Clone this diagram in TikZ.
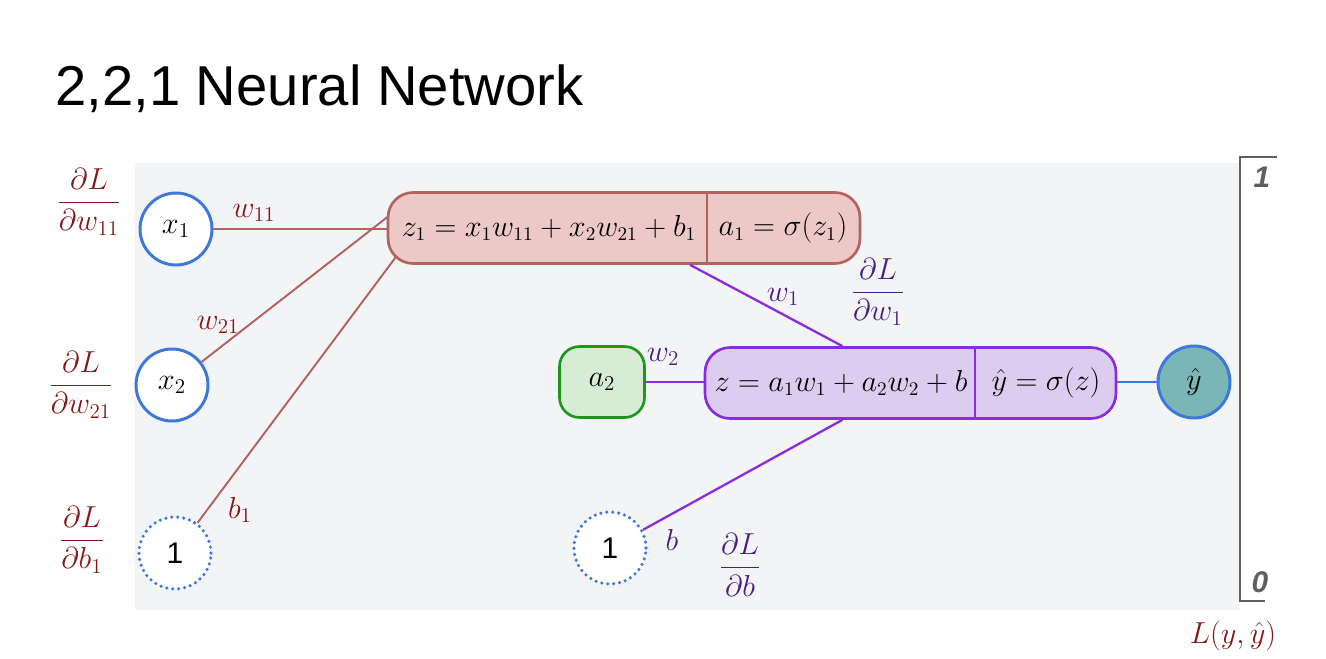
\documentclass[tikz,border=0pt]{standalone}
\usepackage{amsmath}
\usepackage{fontspec}
\setmainfont{Liberation Sans}
\usetikzlibrary{calc}
\definecolor{panelcolor}{RGB}{243,244,246}
\definecolor{bluecolor}{RGB}{62,120,222}
\definecolor{redline}{RGB}{178,98,96}
\definecolor{redfill}{RGB}{236,200,199}
\definecolor{redlabel}{RGB}{132,24,24}
\definecolor{purpleline}{RGB}{138,43,226}
\definecolor{purplefill}{RGB}{220,204,240}
\definecolor{purplelabel}{RGB}{72,30,128}
\definecolor{greenline}{RGB}{30,150,30}
\definecolor{greenfill}{RGB}{214,236,212}
\definecolor{tealfill}{RGB}{122,182,182}
\definecolor{graycolor}{RGB}{95,95,95}

\begin{document}
\begin{tikzpicture}[x=0.02cm, y=-0.02cm,
    mathfont/.style={font=\fontsize{17}{20}\selectfont},
    boxfont/.style={font=\fontsize{16}{19}\selectfont, inner sep=1pt},
    unit/.style={circle, draw=bluecolor, line width=1.7pt, fill=white,
        minimum size=1.44cm, inner sep=0pt, mathfont},
    biasunit/.style={unit, line width=2pt, dash pattern=on 0pt off 3.4pt, line cap=round},
    calcbox/.style={rounded corners=0.5cm, line width=1.5pt, minimum height=1.42cm, inner sep=0pt},
    redlink/.style={draw=redline, line width=1.1pt},
    purplelink/.style={draw=purpleline, line width=1.3pt},
    redtag/.style={text=redlabel, mathfont},
    purpletag/.style={text=purplelabel, mathfont}]
    \useasboundingbox (0,0) rectangle (1326,659);

    % Title
    \node[anchor=base west, inner sep=0pt, font=\fontsize{32}{38}\selectfont] (title) at (55,105) {2,2,1 Neural Network};

    % Grey panel
    \fill[panelcolor] (135,163) rectangle (1240,610);

    % Inputs and bias of the hidden layer
    \node[unit] (x1) at (176,229) {$x_1$};
    \node[unit] (x2) at (172,385) {$x_2$};
    \node[biasunit] (b1) at (175,553) {1};

    % Hidden neuron 1
    \node[calcbox, draw=redline, fill=redfill, minimum width=9.44cm] (z1box) at (624,228) {};
    \draw[draw=redline, line width=1.5pt] (z1box.north -| 707,0) -- (z1box.south -| 707,0);
    \node[boxfont] (z1txt) at (549,228) {$z_1 = x_1w_{11} + x_2w_{21} + b_1$};
    \node[boxfont] (a1txt) at (783,228) {$a_1 = \sigma(z_1)$};

    % Hidden neuron 2 and output bias
    \node[calcbox, draw=greenline, fill=greenfill, minimum width=1.7cm, rounded corners=0.4cm, mathfont] (a2) at (602,382) {$a_2$};
    \node[biasunit] (b2) at (610,548) {1};

    % Output neuron
    \node[calcbox, draw=purpleline, fill=purplefill, minimum width=8.22cm] (zbox) at (910.5,383) {};
    \draw[draw=purpleline, line width=1.5pt] (zbox.north -| 975,0) -- (zbox.south -| 975,0);
    \node[boxfont] (ztxt) at (841,383) {$z = a_1w_1 + a_2w_2 + b$};
    \node[boxfont] (yhattxt) at (1046,383) {$\hat{y} = \sigma(z)$};
    \node[unit, fill=tealfill] (yhat) at (1194,382) {$\hat{y}$};

    % Connections into the hidden neuron
    \draw[redlink] (x1) -- (x1 -| z1box.west);
    \draw[redlink] (x2) -- ($(z1box.west)+(2,-12)$);
    \draw[redlink] (b1) -- ($(z1box.south west)+(10,-9)$);

    % Connections into the output neuron
    \draw[purplelink] ($(z1box.south)+(66,0)$) -- ($(zbox.north)+(-68,0)$);
    \draw[purplelink] (a2) -- (a2 -| zbox.west);
    \draw[purplelink] (b2) -- ($(zbox.south)+(-68,0)$);
    \draw[draw=bluecolor, line width=1.3pt] (yhat -| zbox.east) -- (yhat);

    % Weight labels
    \node[redtag] (lw11) at (254,213) {$w_{11}$};
    \node[redtag] (lw21) at (218,325) {$w_{21}$};
    \node[redtag] (lb1) at (240,510) {$b_1$};
    \node[purpletag] (lw1) at (783,297) {$w_1$};
    \node[purpletag] (lw2) at (663,357) {$w_2$};
    \node[purpletag] (lb) at (672,540) {$b$};

    % Gradients
    \foreach \x/\y/\v [count=\i] in {89/202/w_{11}, 81/385/w_{21}, 82/540/b_1}
        \node[redtag] (grad\i) at (\x,\y) {$\dfrac{\partial L}{\partial \v}$};
    \node[purpletag] (gradw1) at (878,292) {$\dfrac{\partial L}{\partial w_1}$};
    \node[purpletag] (gradb) at (740,565) {$\dfrac{\partial L}{\partial b}$};

    % Loss scale
    \draw[graycolor, line width=1.4pt] (1277,157) -- (1240,157) -- (1240,601) -- (1265,601);
    \node[text=graycolor, font=\fontsize{17}{20}\selectfont\bfseries\itshape] (one) at (1262,177) {1};
    \node[text=graycolor, font=\fontsize{17}{20}\selectfont\bfseries\itshape] (zero) at (1260,582) {0};
    \node[text=redlabel, font=\fontsize{19}{22}\selectfont, inner sep=1pt] (loss) at (1233,636) {$L(y,\hat{y})$};
\end{tikzpicture}
\end{document}
